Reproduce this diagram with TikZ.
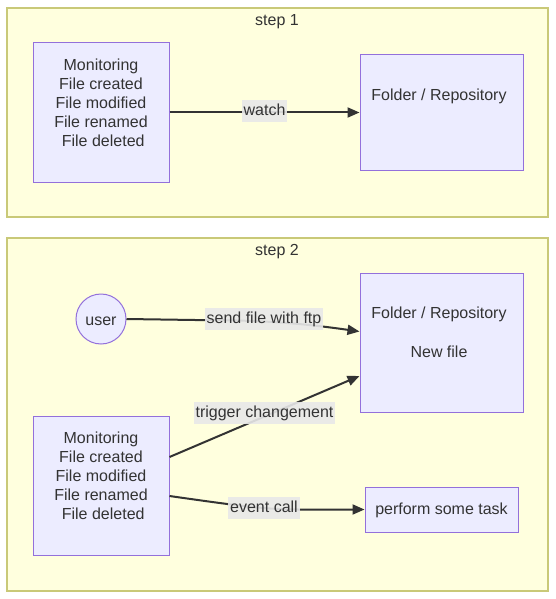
\documentclass[tikz,border=0pt]{standalone}
\usepackage{fontspec}
\setmainfont{Liberation Sans}
\usetikzlibrary{arrows.meta}
\definecolor{clfill}{HTML}{FFFFDE}
\definecolor{clstroke}{HTML}{C9C978}
\definecolor{nfill}{HTML}{ECECFF}
\definecolor{nstroke}{HTML}{9370DB}
\definecolor{txtc}{HTML}{333333}
\definecolor{lblbg}{HTML}{E8E8E8}
\tikzset{
  cluster/.style={draw=clstroke, fill=clfill, line width=1.2pt},
  nodebox/.style={draw=nstroke, fill=nfill, line width=1pt, inner sep=0pt},
  txt/.style={text=txtc, font=\fontsize{16}{19}\selectfont, align=center, inner sep=0pt, yshift=-2pt},
  lbl/.style={text=txtc, font=\fontsize{16}{19}\selectfont, fill=lblbg, fill opacity=0.9, text opacity=1,
              inner xsep=2pt, inner ysep=3pt, text height=12pt, text depth=4pt},
  edge/.style={draw=txtc, line width=2pt, -{Triangle[length=12pt,width=10pt]}},
}
\begin{document}
\begin{tikzpicture}[x=1pt,y=-1pt]
\useasboundingbox (0,0) rectangle (556,599);
% clusters
\node[cluster, minimum width=541pt, minimum height=209pt, inner sep=0pt] (c1) at (277.5,112.5) {};
\node[txt] (c1t) at (277,20) {step 1};
\node[cluster, minimum width=541pt, minimum height=353pt, inner sep=0pt] (c2) at (277.5,414.5) {};
\node[txt] (c2t) at (277,250) {step 2};
% step 1
\node[nodebox, minimum width=136pt, minimum height=139pt] (mon1) at (101,112.5) {};
\node[txt] (mon1t) at (101,100.5) {Monitoring\\File created\\File modified\\File renamed\\\ File deleted};
\node[nodebox, minimum width=163pt, minimum height=115pt] (fold1) at (441.5,112.5) {};
\node[txt] (fold1t) at (439,94) {Folder / Repository};
\draw[edge] (mon1) -- (fold1);
\node[lbl] (l1) at (264.5,111) {watch};
% step 2
\node[nodebox, circle, minimum size=50pt] (user) at (101,319) {};
\node[txt] (usert) at (101,319) {user};
\node[nodebox, minimum width=163pt, minimum height=139pt] (fold2) at (441.5,342.5) {};
\node[txt] (fold2t) at (439,312) {Folder / Repository};
\node[txt] (fold2n) at (439,350) {New file};
\node[nodebox, minimum width=136pt, minimum height=139pt] (mon2) at (101,485.5) {};
\node[txt] (mon2t) at (101,473.5) {Monitoring\\File created\\File modified\\File renamed\\\ File deleted};
\node[nodebox, minimum width=153pt, minimum height=45pt] (perf) at (441.5,509.5) {};
\node[txt] (perft) at (441.5,508) {perform some task};
\draw[edge] (user.east) -- (195,320) .. controls (260,320) and (300,323) .. ([yshift=11pt]fold2.west);
\draw[edge] ([yshift=28.5pt]mon2.east) -- ([yshift=-33.5pt]fold2.west);
\draw[edge] ([yshift=-10.5pt]mon2.east) .. controls (240,506) and (265,509.5) .. (300,509.5) -- (perf.west);
\node[lbl] (l2) at (264,319) {send file with ftp};
\node[lbl] (l3) at (264.5,413) {trigger changement};
\node[lbl] (l4) at (264,508) {event call};
\end{tikzpicture}
\end{document}
